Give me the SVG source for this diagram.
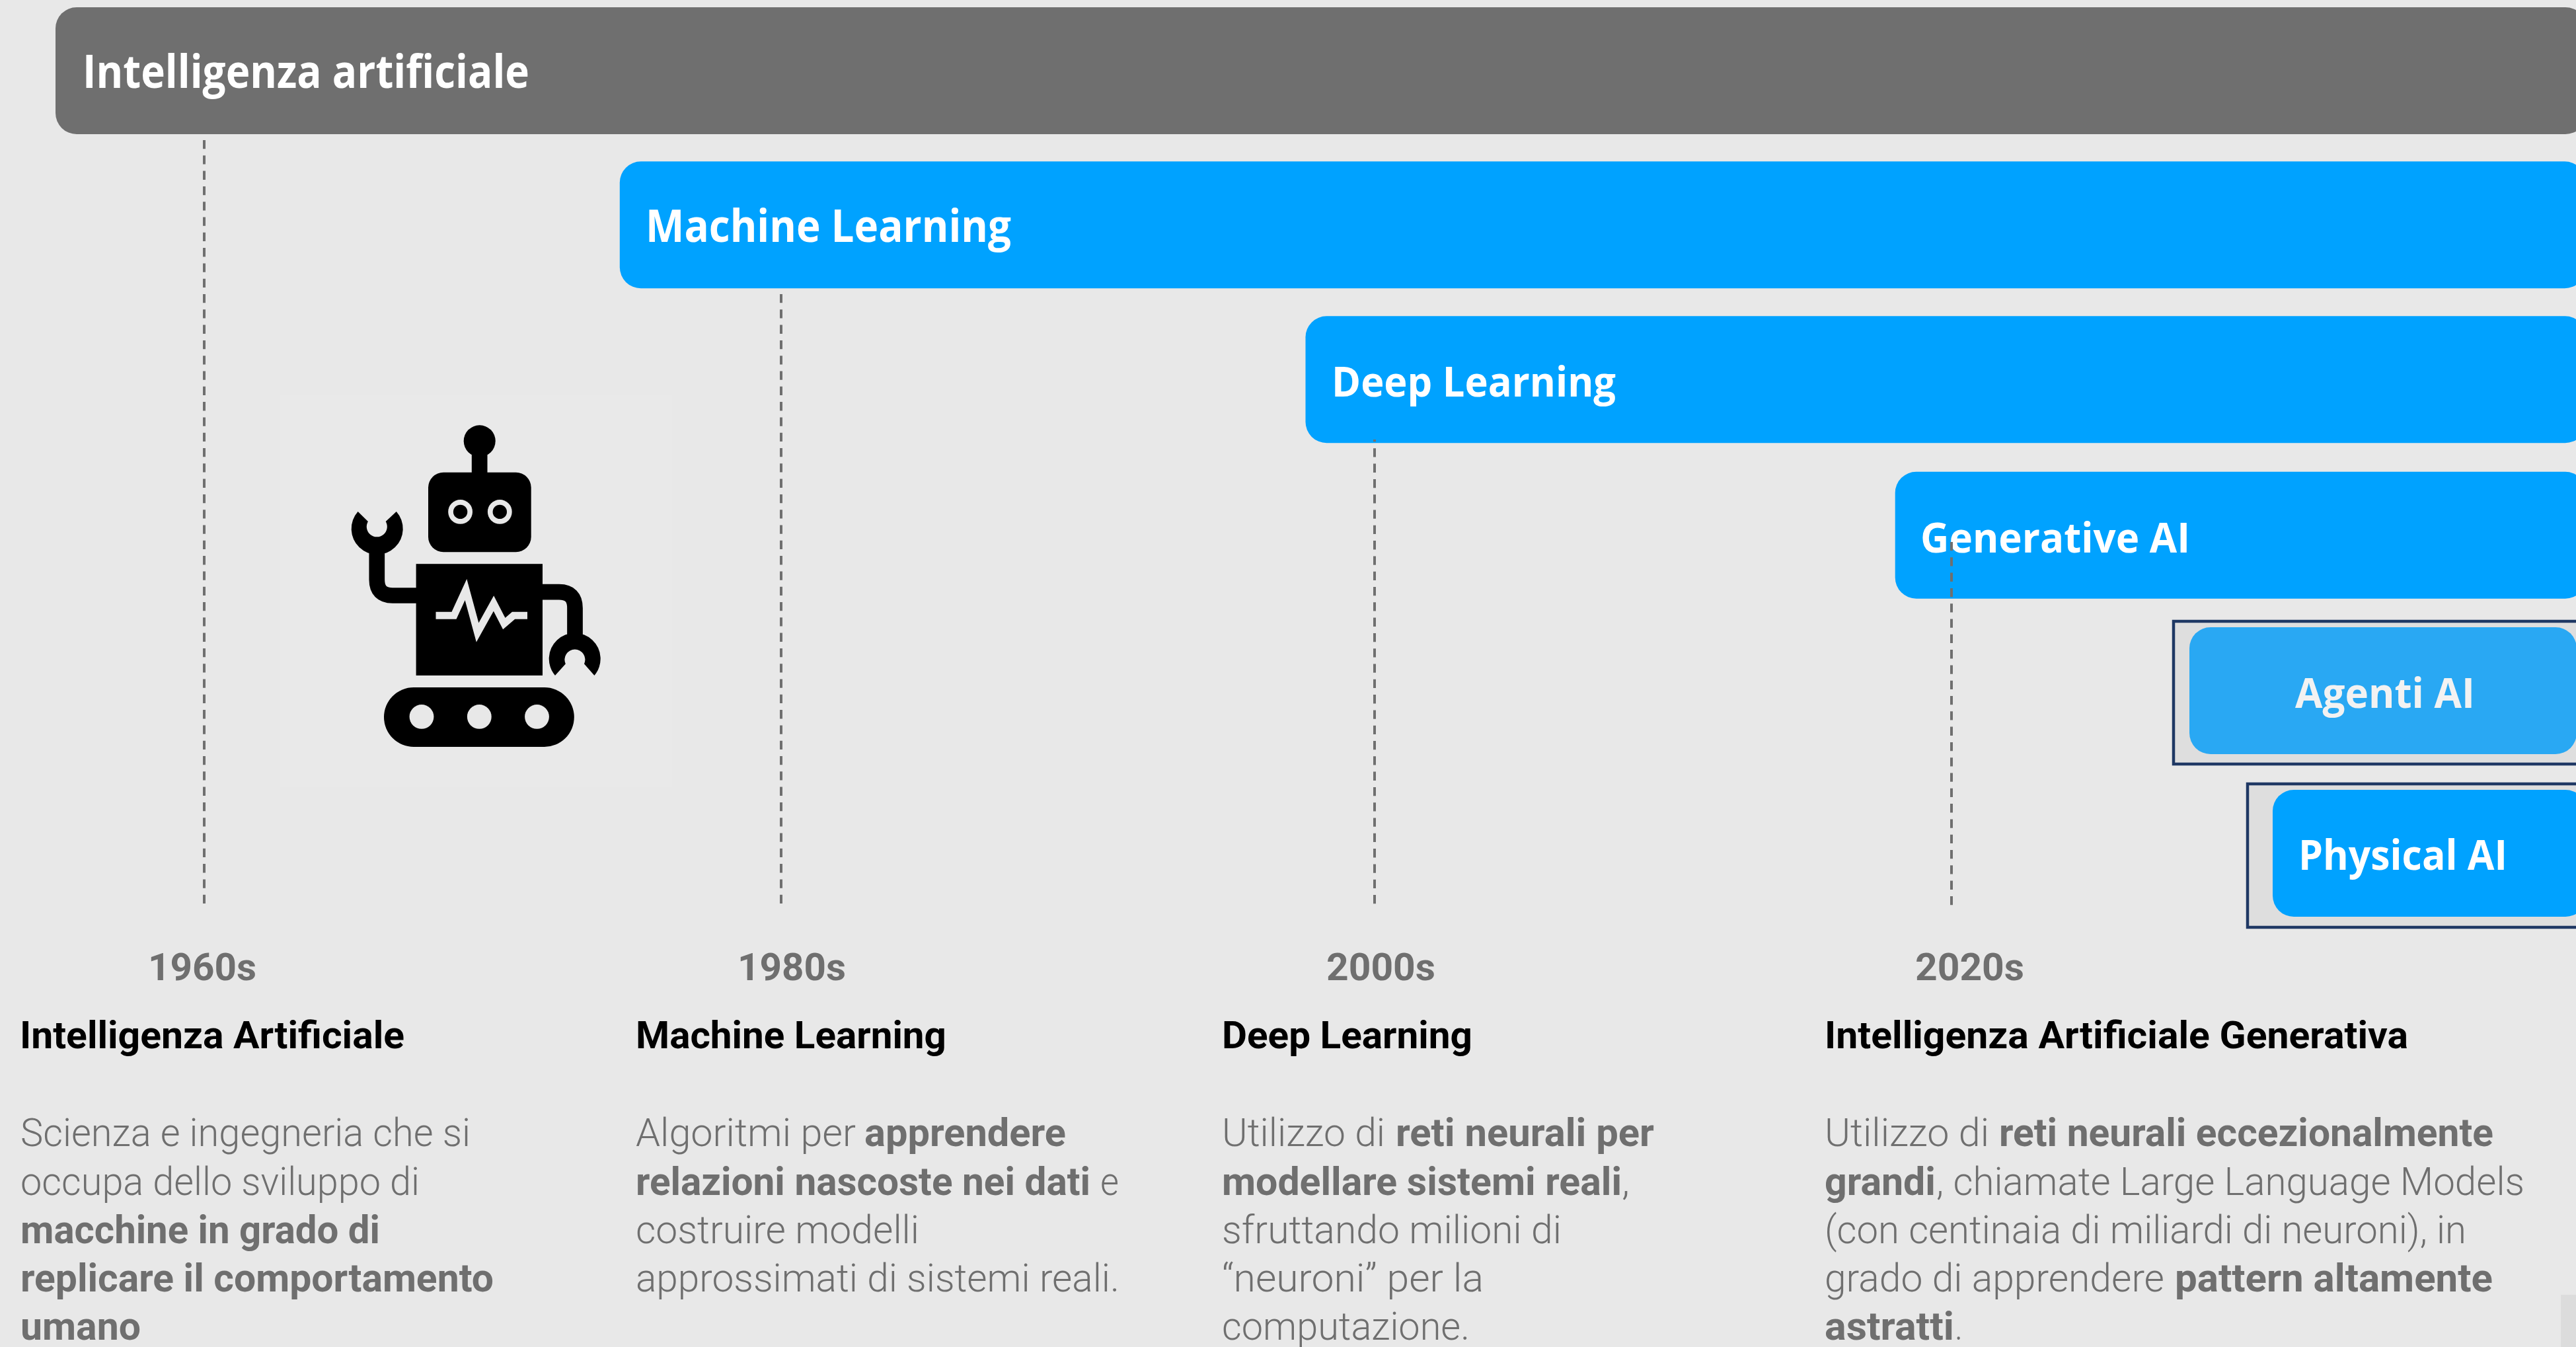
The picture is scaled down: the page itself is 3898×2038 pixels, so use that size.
<svg xmlns="http://www.w3.org/2000/svg" width="3898" height="2038" viewBox="0 0 3898 2038">
<style>
text{font-family:"Roboto","Liberation Sans",sans-serif}
.bar{fill:#00a2ff}
.frame{fill:#dedede;stroke:#1f3864;stroke-width:4.5}
.lbl{font-family:"Open Sans","Liberation Sans",sans-serif;font-weight:700;fill:#fff}
.yr{font-size:58px;font-weight:700;fill:#6f6f6f}
.hd{font-size:58px;font-weight:700;fill:#000}
.bd{font-size:60px;font-weight:300;fill:#6f6f6f}
.b{font-weight:700}
.dash{fill:none;stroke:#6f6f6f;stroke-width:4;stroke-dasharray:13.3 10}
.k{fill:#000}
.g{fill:#e8e8e8}
.ks{fill:none;stroke:#000;stroke-width:23.7}
</style>
<rect width="3898" height="2038" fill="#e8e8e8"/>
<rect x="3875" y="1959" width="23" height="79" fill="#dcdcdc"/>
<g id="robot">
<rect x="423" y="597" width="594" height="593" fill="#e9e9e9"/>
<circle class="k" cx="725.7" cy="667.3" r="24"/>
<rect class="k" x="713.8" y="680" width="23.7" height="40"/>
<rect class="k" x="648" y="714.7" width="155.7" height="120.6" rx="23"/>
<circle class="g" cx="696.6" cy="774.4" r="18.4"/><circle class="k" cx="696.6" cy="774.4" r="10.7"/>
<circle class="g" cx="756.3" cy="774.4" r="18.4"/><circle class="k" cx="756.3" cy="774.4" r="10.7"/>
<rect class="k" x="629.6" y="853.2" width="191.4" height="168.8"/>
<path class="ks" d="M632 901H594Q570.3 901 570.3 877V825"/>
<path class="k" d="M541.6 774A39 39 0 1 0 599.8 774L583.7 789A15.5 15.5 0 1 1 556.9 789Z"/>
<path class="ks" d="M819 895.7H846Q870 895.7 870 920V970"/>
<path class="k" d="M840 1022A39 39 0 1 1 899.4 1022L884 1004.5A15.5 15.5 0 1 0 855.8 1004.5Z"/>
<polyline fill="none" stroke="#e8e8e8" stroke-width="11" stroke-miterlimit="10" points="659.5,931.3 687,931.3 705,892 722.6,957 747,913 762.8,943.6 777,931.3 798,931.3"/>
<rect class="k" x="581" y="1040" width="287.8" height="90" rx="45"/>
<circle class="g" cx="638" cy="1084.4" r="18.4"/><circle class="g" cx="725.3" cy="1084.4" r="18.4"/><circle class="g" cx="812.5" cy="1084.4" r="18.4"/>
</g>
<g id="bar-ai"><rect x="84" y="11" width="3830" height="192" rx="32" fill="#6f6f6f"/>
<text class="lbl" x="125" y="133" font-size="70" textLength="676" lengthAdjust="spacingAndGlyphs">Intelligenza artificiale</text></g>
<g id="bar-ml"><rect class="bar" x="937.8" y="244.3" width="2975" height="192" rx="32"/>
<text class="lbl" x="977" y="366" font-size="68" textLength="553" lengthAdjust="spacingAndGlyphs">Machine Learning</text></g>
<g id="bar-dl"><rect class="bar" x="1975.5" y="478.3" width="1938" height="192" rx="32"/>
<text class="lbl" x="2015" y="600" font-size="63" textLength="430" lengthAdjust="spacingAndGlyphs">Deep Learning</text></g>
<g id="bar-gen"><rect class="bar" x="2867.7" y="713.7" width="1046" height="192" rx="32"/>
<text class="lbl" x="2906" y="836" font-size="63" textLength="408" lengthAdjust="spacingAndGlyphs">Generative AI</text></g>
<g id="agenti"><rect class="frame" x="3289" y="940" width="640" height="216"/>
<rect x="3313" y="949" width="586" height="192" rx="32" fill="#29a8f3"/>
<text class="lbl" x="3473" y="1071" font-size="63" textLength="272" lengthAdjust="spacingAndGlyphs" style="fill:#f2f2f2">Agenti AI</text></g>
<g id="physical"><rect class="frame" x="3401" y="1186" width="540" height="217"/>
<rect class="bar" x="3439" y="1195" width="475" height="192" rx="32"/>
<text class="lbl" x="3478" y="1316" font-size="63" textLength="316" lengthAdjust="spacingAndGlyphs">Physical AI</text></g>
<g id="connectors">
<path class="dash" d="M309 212V1372"/>
<path class="dash" d="M1182 445V1372"/>
<path class="dash" d="M2080 665V1372" stroke-dashoffset="10"/>
<path class="dash" d="M2953 820V1372"/>
</g>
<g id="col-1960">
<text class="yr" x="224" y="1483" textLength="164" lengthAdjust="spacingAndGlyphs">1960s</text>
<text class="hd" x="30" y="1586" textLength="582" lengthAdjust="spacingAndGlyphs">Intelligenza Artificiale</text>
<text class="bd" x="31" y="1734" textLength="681" lengthAdjust="spacingAndGlyphs">Scienza e ingegneria che si</text>
<text class="bd" x="31" y="1807.5" textLength="604" lengthAdjust="spacingAndGlyphs">occupa dello sviluppo di</text>
<text class="bd b" x="31" y="1881" textLength="544" lengthAdjust="spacingAndGlyphs">macchine in grado di</text>
<text class="bd b" x="31" y="1954" textLength="716" lengthAdjust="spacingAndGlyphs">replicare il comportamento</text>
<text class="bd b" x="31" y="2027" textLength="182" lengthAdjust="spacingAndGlyphs">umano</text>
</g>
<g id="col-1980">
<text class="yr" x="1116" y="1483" textLength="164" lengthAdjust="spacingAndGlyphs">1980s</text>
<text class="hd" x="962" y="1586" textLength="470" lengthAdjust="spacingAndGlyphs">Machine Learning</text>
<text class="bd" x="962" y="1734" textLength="333" lengthAdjust="spacingAndGlyphs">Algoritmi per</text>
<text class="bd b" x="1308" y="1734" textLength="305" lengthAdjust="spacingAndGlyphs">apprendere</text>
<text class="bd b" x="962" y="1807.5" textLength="688" lengthAdjust="spacingAndGlyphs">relazioni nascoste nei dati</text>
<text class="bd" x="1665" y="1807.5" textLength="28" lengthAdjust="spacingAndGlyphs">e</text>
<text class="bd" x="962" y="1881" textLength="429" lengthAdjust="spacingAndGlyphs">costruire modelli</text>
<text class="bd" x="962" y="1954" textLength="732" lengthAdjust="spacingAndGlyphs">approssimati di sistemi reali.</text>
</g>
<g id="col-2000">
<text class="yr" x="2007" y="1483" textLength="165" lengthAdjust="spacingAndGlyphs">2000s</text>
<text class="hd" x="1849" y="1586" textLength="379" lengthAdjust="spacingAndGlyphs">Deep Learning</text>
<text class="bd" x="1849" y="1734" textLength="247" lengthAdjust="spacingAndGlyphs">Utilizzo di</text>
<text class="bd b" x="2112" y="1734" textLength="391" lengthAdjust="spacingAndGlyphs">reti neurali per</text>
<text class="bd b" x="1849" y="1807.5" textLength="605" lengthAdjust="spacingAndGlyphs">modellare sistemi reali</text>
<text class="bd" x="2454" y="1807.5" textLength="12" lengthAdjust="spacingAndGlyphs">,</text>
<text class="bd" x="1849" y="1881" textLength="514" lengthAdjust="spacingAndGlyphs">sfruttando milioni di</text>
<text class="bd" x="1849" y="1954" textLength="396" lengthAdjust="spacingAndGlyphs">“neuroni” per la</text>
<text class="bd" x="1849" y="2027" textLength="375" lengthAdjust="spacingAndGlyphs">computazione.</text>
</g>
<g id="col-2020">
<text class="yr" x="2898" y="1483" textLength="165" lengthAdjust="spacingAndGlyphs">2020s</text>
<text class="hd" x="2761" y="1586" textLength="883" lengthAdjust="spacingAndGlyphs">Intelligenza Artificiale Generativa</text>
<text class="bd" x="2761" y="1734" textLength="249" lengthAdjust="spacingAndGlyphs">Utilizzo di</text>
<text class="bd b" x="3025" y="1734" textLength="748" lengthAdjust="spacingAndGlyphs">reti neurali eccezionalmente</text>
<text class="bd b" x="2761" y="1807.5" textLength="168" lengthAdjust="spacingAndGlyphs">grandi</text>
<text class="bd" x="2930" y="1807.5" textLength="890" lengthAdjust="spacingAndGlyphs">, chiamate Large Language Models</text>
<text class="bd" x="2761" y="1881" textLength="971" lengthAdjust="spacingAndGlyphs">(con centinaia di miliardi di neuroni), in</text>
<text class="bd" x="2761" y="1954" textLength="514" lengthAdjust="spacingAndGlyphs">grado di apprendere</text>
<text class="bd b" x="3291" y="1954" textLength="481" lengthAdjust="spacingAndGlyphs">pattern altamente</text>
<text class="bd b" x="2761" y="2027" textLength="196" lengthAdjust="spacingAndGlyphs">astratti</text>
<text class="bd" x="2958" y="2027" textLength="12" lengthAdjust="spacingAndGlyphs">.</text>
</g>
</svg>
